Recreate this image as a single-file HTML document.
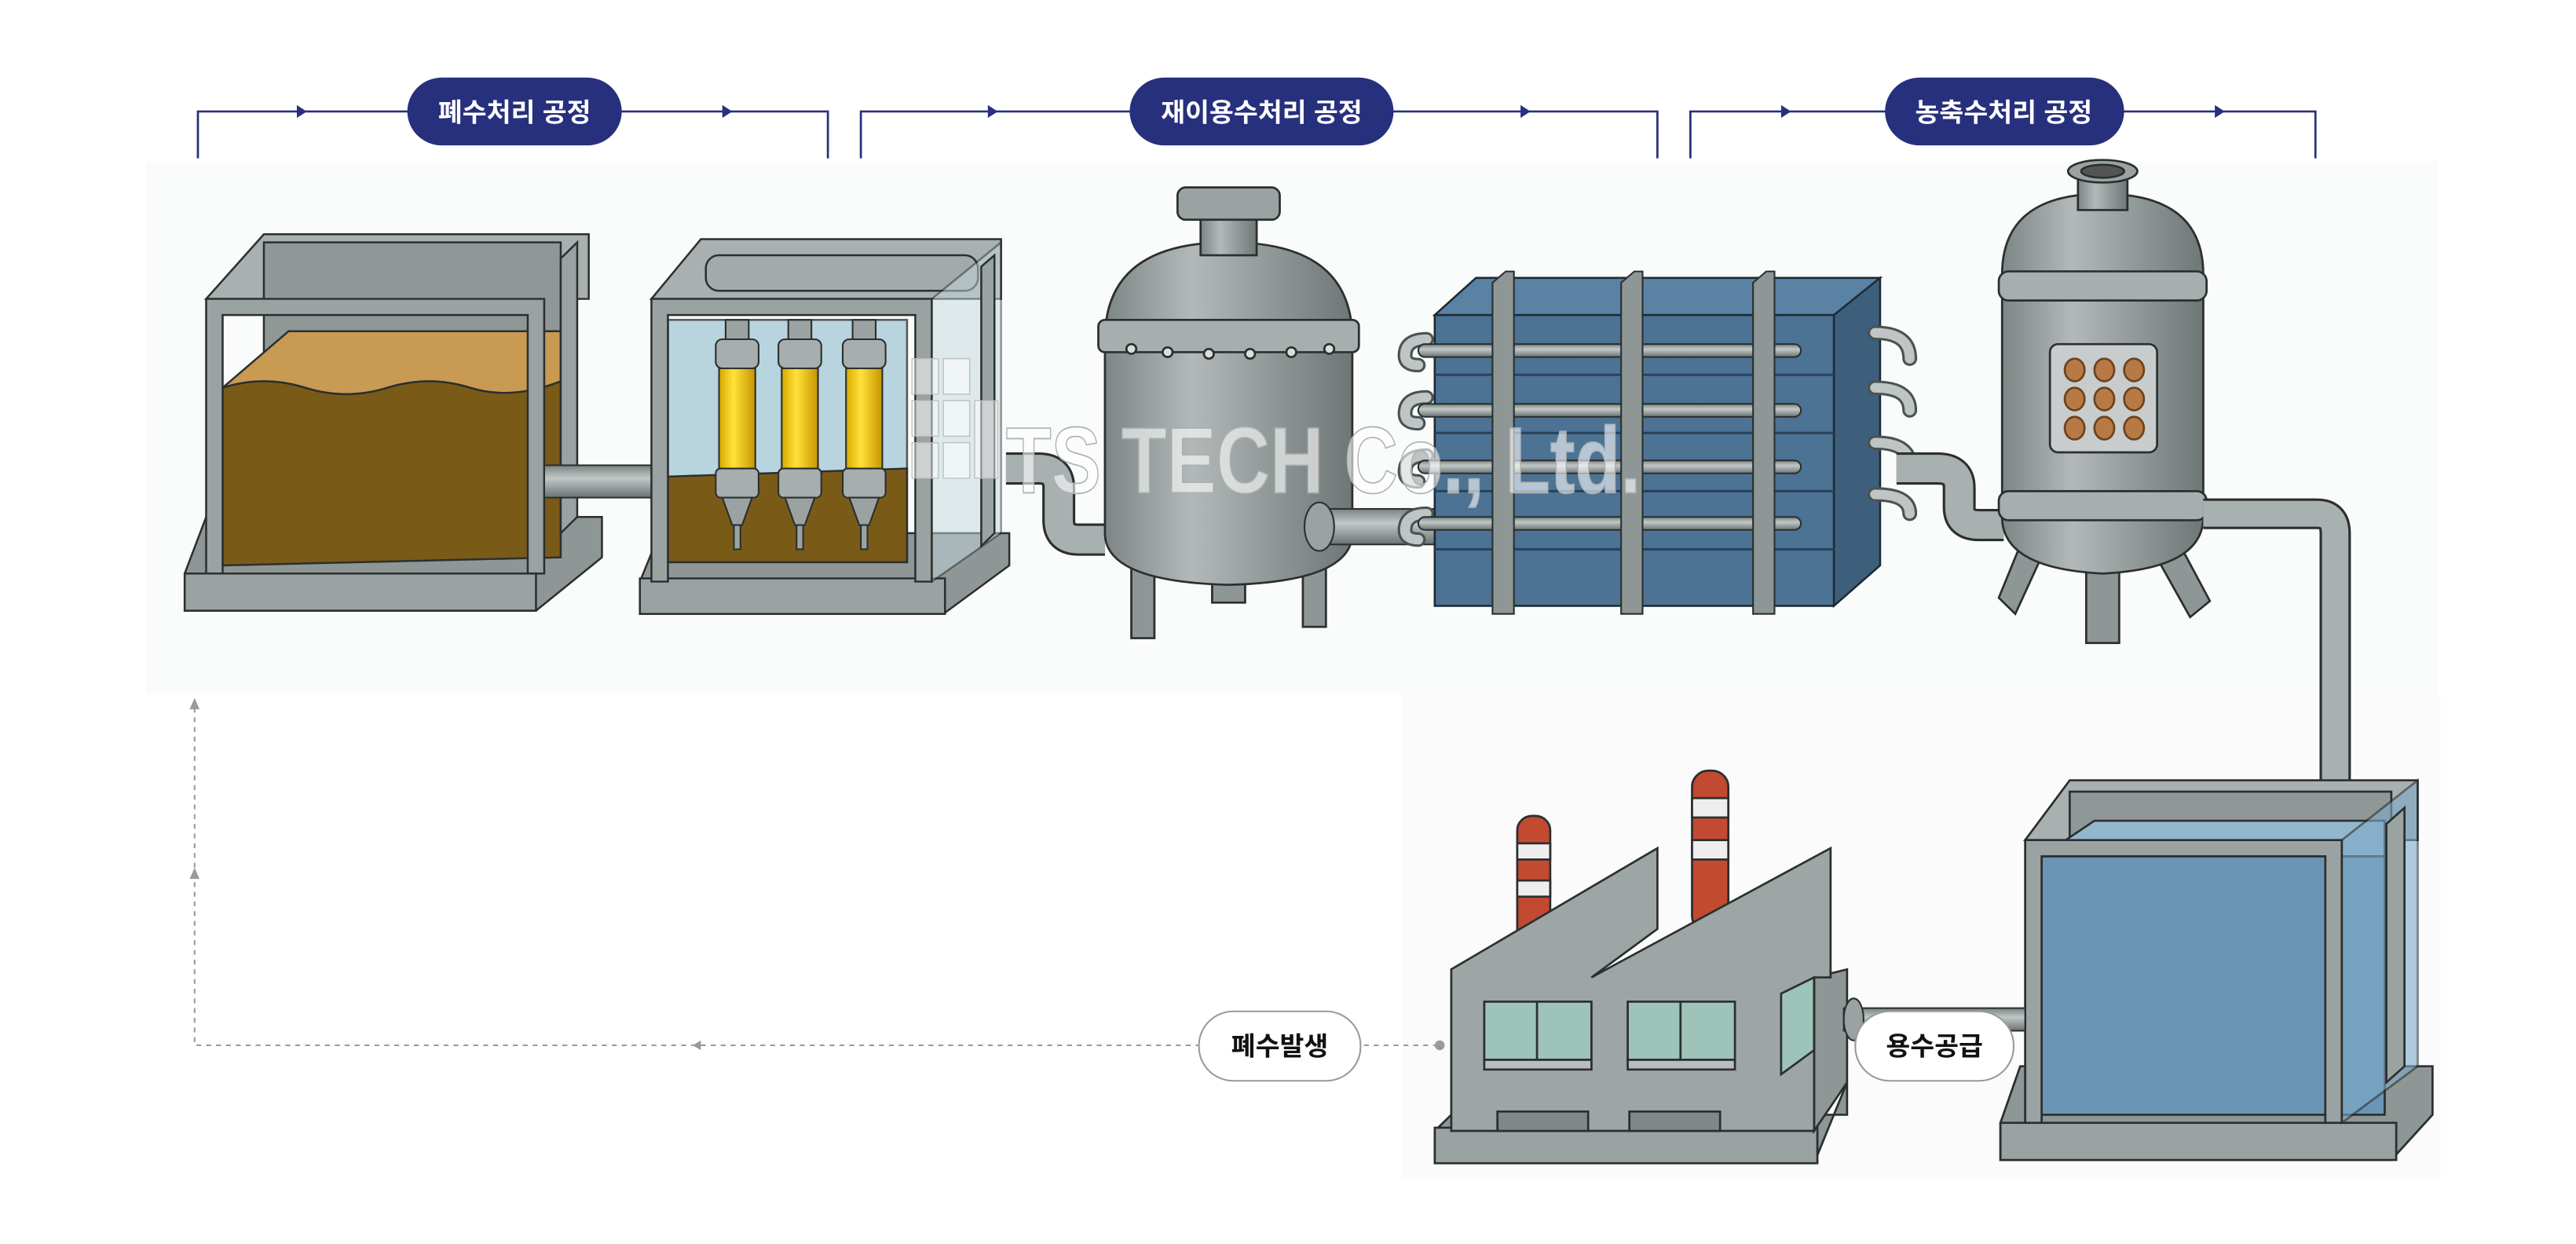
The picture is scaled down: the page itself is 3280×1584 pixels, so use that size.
<!DOCTYPE html>
<html><head><meta charset="utf-8"><style>
html,body{margin:0;padding:0;background:#fff;}
svg{display:block;}
text{font-family:"Liberation Sans","Noto Sans CJK KR",sans-serif;font-weight:bold;}
</style></head><body>
<svg width="3280" height="1584" viewBox="0 0 1562 770" preserveAspectRatio="none" xmlns="http://www.w3.org/2000/svg">
<defs>
<linearGradient id="steel" x1="0" x2="1"><stop offset="0" stop-color="#7d8585"/><stop offset="0.35" stop-color="#b3b9b9"/><stop offset="1" stop-color="#6e7676"/></linearGradient>
<linearGradient id="pipe" x1="0" y1="0" x2="0" y2="1"><stop offset="0" stop-color="#7a8282"/><stop offset="0.4" stop-color="#c2c8c8"/><stop offset="1" stop-color="#6a7272"/></linearGradient>
<linearGradient id="yel" x1="0" x2="1"><stop offset="0" stop-color="#d9a800"/><stop offset="0.4" stop-color="#ffe23a"/><stop offset="1" stop-color="#c99500"/></linearGradient>
</defs>
<rect width="1562" height="770" fill="#fff"/>
<rect x="88" y="100" width="1390" height="330" fill="#fafbfb"/>
<rect x="850" y="430" width="630" height="300" fill="#fbfbfb"/>

<!-- headers -->
<g stroke="#27307c" stroke-width="1.3" fill="none">
<polyline points="120,98 120,69 502,69 502,98"/>
<polyline points="522,98 522,69 1005,69 1005,98"/>
<polyline points="1025,98 1025,69 1404,69 1404,98"/>
</g>
<g fill="#27307c">
<path d="M180,65 L186,69 L180,73Z"/><path d="M438,65 L444,69 L438,73Z"/>
<path d="M599,65 L605,69 L599,73Z"/><path d="M922,65 L928,69 L922,73Z"/>
<path d="M1080,65 L1086,69 L1080,73Z"/><path d="M1343,65 L1349,69 L1343,73Z"/>
<rect x="247" y="48" width="130" height="42" rx="21"/>
<rect x="685" y="48" width="160" height="42" rx="21"/>
<rect x="1143" y="48" width="145" height="42" rx="21"/>
</g>
<g fill="#fff" font-size="16" text-anchor="middle">
<text x="312" y="75">폐수처리 공정</text>
<text x="765" y="75">재이용수처리 공정</text>
<text x="1215" y="75">농축수처리 공정</text>
</g>

<!-- tank 1 -->
<g stroke="#2b2f2f" stroke-width="1.2">
<path d="M112,355 L125,320 L365,320 L365,345 L325,378 L112,378Z" fill="#8e9696"/>
<rect x="112" y="355" width="213" height="23" fill="#9aa2a2"/>
<path d="M125,185 L160,145 L357,145 L357,185Z" fill="#a9b0b0"/>
<rect x="160" y="150" width="180" height="160" fill="#8f9797"/>
<path d="M135,240 Q160,232 185,240 T235,240 T285,240 T340,236 L340,205 L175,205Z" fill="#c89a52"/>
<path d="M135,240 Q160,232 185,240 T235,240 T285,240 T340,236 L340,345 L135,350Z" fill="#7a5a17"/>
<path d="M125,185 L125,355 L135,355 L135,195 L320,195 L320,355 L330,355 L330,185Z" fill="#9aa2a2"/>
<path d="M340,160 L350,150 L350,320 L340,330Z" fill="#9aa2a2"/>
</g>
<rect x="330" y="288" width="70" height="20" fill="url(#pipe)" stroke="#2b2f2f"/>

<!-- tank 2 -->
<g stroke="#2b2f2f" stroke-width="1.2">
<path d="M388,360 L400,330 L612,330 L612,350 L572,380 L388,380Z" fill="#8e9696"/>
<rect x="388" y="358" width="185" height="22" fill="#9aa2a2"/>
<path d="M395,185 L425,148 L607,148 L607,185Z" fill="#a9b0b0"/>
<rect x="428" y="158" width="165" height="22" rx="8" fill="#a3aaaa"/>
<rect x="405" y="198" width="145" height="150" fill="#a8cbd8" opacity="0.8"/>
<path d="M405,295 L550,290 L550,348 L405,348Z" fill="#7a5a17"/>
<path d="M395,185 L395,360 L405,360 L405,195 L555,195 L555,360 L565,360 L565,185Z" fill="#9aa2a2"/>
<path d="M565,185 L607,150 L607,330 L565,360Z" fill="#c4d8df" opacity="0.5"/>
<path d="M595,165 L603,158 L603,330 L595,338Z" fill="#9aa2a2"/>
</g>
<g stroke="#2b2f2f" stroke-width="1">
<g id="cart">
<rect x="440" y="198" width="14" height="14" fill="#9aa2a2"/>
<rect x="434" y="210" width="26" height="18" rx="4" fill="#a7aeae"/>
<rect x="436" y="228" width="22" height="65" fill="url(#yel)"/>
<rect x="434" y="290" width="26" height="18" rx="3" fill="#a7aeae"/>
<path d="M438,308 L456,308 L450,325 L444,325Z" fill="#9aa2a2"/>
<rect x="445" y="325" width="4" height="15" fill="#9aa2a2"/>
</g>
<use href="#cart" x="38"/><use href="#cart" x="77"/>
</g>

<path d="M610,290 L630,290 Q642,290 642,302 L642,322 Q642,334 654,334 L670,334" fill="none" stroke="#2b2f2f" stroke-width="20"/>
<path d="M610,290 L630,290 Q642,290 642,302 L642,322 Q642,334 654,334 L670,334" fill="none" stroke="#a9b0b0" stroke-width="17"/>

<!-- vessel 1 -->
<g stroke="#2b2f2f" stroke-width="1.3">
<rect x="686" y="330" width="14" height="65" fill="#8e9696"/>
<rect x="790" y="330" width="14" height="58" fill="#8e9696"/>
<rect x="735" y="355" width="20" height="18" fill="#8e9696"/>
<path d="M670,210 Q670,150 745,150 Q820,150 820,210 L820,330 Q820,360 745,362 Q670,360 670,330Z" fill="url(#steel)"/>
<rect x="666" y="198" width="158" height="20" rx="4" fill="#a7aeae"/>
<rect x="728" y="130" width="34" height="28" fill="url(#steel)"/>
<rect x="714" y="116" width="62" height="20" rx="5" fill="#9aa2a2"/>
<g fill="#ddd"><circle cx="686" cy="216" r="3"/><circle cx="708" cy="218" r="3"/><circle cx="733" cy="219" r="3"/><circle cx="758" cy="219" r="3"/><circle cx="783" cy="218" r="3"/><circle cx="806" cy="216" r="3"/></g>
</g>
<rect x="795" y="315" width="80" height="22" fill="url(#pipe)" stroke="#2b2f2f"/>
<ellipse cx="800" cy="326" rx="9" ry="15" fill="#9aa2a2" stroke="#2b2f2f"/>

<!-- membrane stack -->
<g stroke="#1e2a33" stroke-width="1.2">
<path d="M870,195 L895,172 L1140,172 L1140,350 L1112,375 L870,375Z" fill="#466a8a"/>
<path d="M870,195 L895,172 L1140,172 L1112,195Z" fill="#5a82a5"/>
<path d="M1112,195 L1140,172 L1140,350 L1112,375Z" fill="#3d5f7c"/>
<rect x="870" y="195" width="242" height="180" fill="#4c7294"/>
<g stroke="#2a4258" stroke-width="1.5"><line x1="870" y1="232" x2="1112" y2="232"/><line x1="870" y1="268" x2="1112" y2="268"/><line x1="870" y1="304" x2="1112" y2="304"/><line x1="870" y1="340" x2="1112" y2="340"/></g>
</g>
<g fill="none" stroke="#4a5252" stroke-width="9" stroke-linecap="round">
<path d="M865,210 Q852,210 852,220 Q852,226 860,226"/><path d="M865,246 Q852,246 852,256 Q852,262 860,262"/><path d="M865,282 Q852,282 852,292 Q852,298 860,298"/><path d="M865,318 Q852,318 852,328 Q852,334 860,334"/>
<path d="M1137,206 Q1158,206 1158,222"/><path d="M1137,240 Q1158,240 1158,254"/><path d="M1137,274 Q1158,274 1158,288"/><path d="M1137,306 Q1158,306 1158,318"/>
</g>
<g fill="none" stroke="#bfc5c5" stroke-width="6" stroke-linecap="round">
<path d="M865,210 Q852,210 852,220 Q852,226 860,226"/><path d="M865,246 Q852,246 852,256 Q852,262 860,262"/><path d="M865,282 Q852,282 852,292 Q852,298 860,298"/><path d="M865,318 Q852,318 852,328 Q852,334 860,334"/>
<path d="M1137,206 Q1158,206 1158,222"/><path d="M1137,240 Q1158,240 1158,254"/><path d="M1137,274 Q1158,274 1158,288"/><path d="M1137,306 Q1158,306 1158,318"/>
</g>
<g stroke="#2b2f2f" stroke-width="1">
<rect x="860" y="213" width="232" height="8" rx="4" fill="url(#pipe)"/>
<rect x="860" y="250" width="232" height="8" rx="4" fill="url(#pipe)"/>
<rect x="860" y="285" width="232" height="8" rx="4" fill="url(#pipe)"/>
<rect x="860" y="320" width="232" height="8" rx="4" fill="url(#pipe)"/>
<path d="M905,175 L913,168 L918,168 L918,380 L905,380Z" fill="#8e9696"/>
<path d="M983,175 L991,168 L996,168 L996,380 L983,380Z" fill="#8e9696"/>
<path d="M1063,175 L1071,168 L1076,168 L1076,380 L1063,380Z" fill="#8e9696"/>
</g>

<path d="M1150,290 L1175,290 Q1188,290 1188,302 L1188,314 Q1188,325 1200,325 L1215,325" fill="none" stroke="#2b2f2f" stroke-width="20"/>
<path d="M1150,290 L1175,290 Q1188,290 1188,302 L1188,314 Q1188,325 1200,325 L1215,325" fill="none" stroke="#a9b0b0" stroke-width="17"/>

<!-- vessel 2 -->
<g stroke="#2b2f2f" stroke-width="1.3">
<path d="M1228,330 L1212,370 L1222,380 L1240,340Z" fill="#8e9696"/>
<path d="M1318,330 L1340,372 L1328,382 L1305,340Z" fill="#8e9696"/>
<rect x="1265" y="340" width="20" height="58" fill="#8e9696"/>
<path d="M1214,170 Q1214,120 1275,120 Q1336,120 1336,170 L1336,320 Q1336,352 1275,355 Q1214,352 1214,320Z" fill="url(#steel)"/>
<rect x="1212" y="168" width="126" height="18" rx="6" fill="#a7aeae"/>
<rect x="1212" y="304" width="126" height="18" rx="6" fill="#a7aeae"/>
<rect x="1260" y="108" width="30" height="22" fill="url(#steel)"/>
<ellipse cx="1275" cy="106" rx="21" ry="7" fill="#9aa2a2"/>
<ellipse cx="1275" cy="106" rx="13" ry="4" fill="#555"/>
<rect x="1243" y="213" width="65" height="67" rx="5" fill="#c9cccc"/>
<g fill="#b87a45" stroke="#6b4320"><ellipse cx="1258" cy="229" rx="6" ry="7"/><ellipse cx="1276" cy="229" rx="6" ry="7"/><ellipse cx="1294" cy="229" rx="6" ry="7"/><ellipse cx="1258" cy="247" rx="6" ry="7"/><ellipse cx="1276" cy="247" rx="6" ry="7"/><ellipse cx="1294" cy="247" rx="6" ry="7"/><ellipse cx="1258" cy="265" rx="6" ry="7"/><ellipse cx="1276" cy="265" rx="6" ry="7"/><ellipse cx="1294" cy="265" rx="6" ry="7"/></g>
</g>
<path d="M1336,318 L1405,318 Q1416,318 1416,330 L1416,490" fill="none" stroke="#2b2f2f" stroke-width="19"/>
<path d="M1336,318 L1405,318 Q1416,318 1416,330 L1416,490" fill="none" stroke="#a9b0b0" stroke-width="16"/>

<!-- blue tank -->
<g stroke="#2b2f2f" stroke-width="1.3">
<path d="M1213,695 L1225,660 L1475,660 L1475,690 L1450,718 L1213,718Z" fill="#8e9696"/>
<rect x="1213" y="695" width="240" height="23" fill="#9aa2a2"/>
<path d="M1228,520 L1255,483 L1466,483 L1466,520Z" fill="#a9b0b0"/>
<rect x="1255" y="490" width="195" height="170" fill="#8f9797"/>
<rect x="1238" y="530" width="208" height="160" fill="#6b95b4"/>
<path d="M1238,530 L1270,508 L1446,508 L1446,530Z" fill="#93b7cd"/>
<path d="M1228,520 L1228,695 L1238,695 L1238,530 L1410,530 L1410,695 L1420,695 L1420,520Z" fill="#9aa2a2"/>
<path d="M1420,520 L1466,483 L1466,660 L1420,695Z" fill="#7eaac7" opacity="0.6"/>
<path d="M1447,510 L1458,500 L1458,660 L1447,670Z" fill="#9aa2a2"/>
</g>

<!-- factory -->
<g stroke="#2b2f2f" stroke-width="1.3">
<path d="M870,700 L880,690 L1120,690 L1120,670 L1100,720 L870,720Z" fill="#8e9696"/>
<rect x="870" y="698" width="232" height="22" fill="#9aa2a2"/>
<path d="M1100,605 L1120,600 L1120,670 L1100,700Z" fill="#8e9696"/>
<rect x="920" y="505" width="20" height="80" rx="9" fill="#c14a30"/>
<rect x="920" y="522" width="20" height="10" fill="#eee"/><rect x="920" y="545" width="20" height="10" fill="#eee"/>
<rect x="1026" y="477" width="22" height="100" rx="10" fill="#c14a30"/>
<rect x="1026" y="494" width="22" height="12" fill="#eee"/><rect x="1026" y="520" width="22" height="12" fill="#eee"/>
<path d="M880,600 L1005,525 L1005,575 L965,605 L1110,525 L1110,605 L1100,605 L1100,700 L880,700Z" fill="#9ea5a5"/>
<rect x="900" y="620" width="65" height="36" fill="#9ec3b8"/><line x1="932" y1="620" x2="932" y2="656"/>
<rect x="900" y="656" width="65" height="6" fill="#b8bebe"/>
<rect x="987" y="620" width="65" height="36" fill="#9ec3b8"/><line x1="1019" y1="620" x2="1019" y2="656"/>
<rect x="987" y="656" width="65" height="6" fill="#b8bebe"/>
<path d="M1080,615 L1100,605 L1100,650 L1080,665Z" fill="#9ec3b8"/>
<rect x="908" y="688" width="55" height="12" fill="#808888"/>
<rect x="988" y="688" width="55" height="12" fill="#808888"/>
</g>
<rect x="1118" y="624" width="110" height="14" fill="url(#pipe)" stroke="#2b2f2f"/>
<ellipse cx="1124" cy="631" rx="6" ry="13" fill="#9aa2a2" stroke="#2b2f2f"/>

<!-- watermark -->
<g fill="#fff" fill-opacity="0.5" stroke="#bbb" stroke-width="0.6"><rect x="553" y="222" width="16" height="22"/><rect x="572" y="222" width="16" height="22"/><rect x="553" y="248" width="16" height="22"/><rect x="572" y="248" width="16" height="22"/><rect x="553" y="274" width="16" height="22"/><rect x="572" y="274" width="16" height="22"/><rect x="591" y="248" width="14" height="48"/></g>
<text x="610" y="305" font-size="58" textLength="385" lengthAdjust="spacingAndGlyphs" fill="#ffffff" fill-opacity="0.6" stroke="#aab0b0" stroke-width="0.8">TS TECH Co., Ltd.</text>

<!-- dashed return -->
<g stroke="#9a9a9a" stroke-width="1" stroke-dasharray="3,3" fill="none">
<polyline points="872,647 118,647 118,434"/>
</g>
<g fill="#9a9a9a">
<circle cx="873" cy="647" r="3"/>
<path d="M420,647 L425,644 L425,650Z"/>
<path d="M118,432 L115,439 L121,439Z"/>
<path d="M118,537 L115,544 L121,544Z"/>
</g>
<g fill="#fff" stroke="#999" stroke-width="1">
<rect x="727" y="626" width="98" height="43" rx="21"/>
<rect x="1125" y="626" width="96" height="43" rx="21"/>
</g>
<g fill="#111" font-size="16" text-anchor="middle">
<text x="776" y="653">폐수발생</text>
<text x="1173" y="653">용수공급</text>
</g>
</svg>
</body></html>
